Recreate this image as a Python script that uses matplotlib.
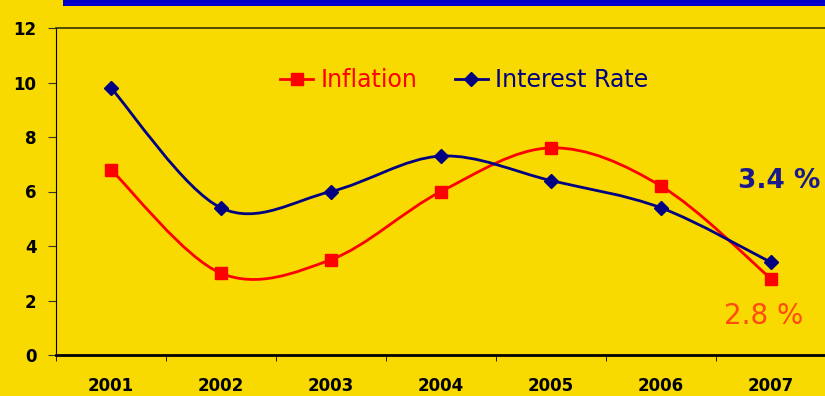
import numpy as np
import matplotlib
matplotlib.use("Agg")
import matplotlib.pyplot as plt
from matplotlib.path import Path
from matplotlib.patches import PathPatch, Rectangle

# data
years = ['2001', '2002', '2003', '2004', '2005', '2006', '2007']
inflation = [6.8, 3.0, 3.5, 6.0, 7.6, 6.2, 2.8]
interest = [9.8, 5.4, 6.0, 7.3, 6.4, 5.4, 3.4]

bg = '#F8DA00'
red = '#FF0000'
navy = '#000080'


def smooth_path(xs, ys):
    # excel style smoothed line: bezier through each pair of points
    pts = np.column_stack([xs, ys]).astype(float)
    n = len(pts)
    verts = [pts[0]]
    codes = [Path.MOVETO]
    for i in range(n - 1):
        p0 = pts[max(i - 1, 0)]
        p1 = pts[i]
        p2 = pts[i + 1]
        p3 = pts[min(i + 2, n - 1)]
        c1 = p1 + (p2 - p0) / 6.0
        c2 = p2 - (p3 - p1) / 6.0
        verts += [c1, c2, p2]
        codes += [Path.CURVE4] * 3
    return Path(verts, codes)


fig = plt.figure(figsize=(8.25, 3.96), dpi=100, facecolor=bg)
ax = fig.add_axes([56 / 825, 41 / 396, 770 / 825, 327 / 396])
ax.set_facecolor(bg)

# blue bar at the top
fig.patches.append(Rectangle((63 / 825, 390 / 396), 1, 6 / 396, transform=fig.transFigure,
                             facecolor='#0000CC', edgecolor='none', figure=fig))

x = np.arange(len(years))
for vals, col, mk, ms, lab in [(inflation, red, 's', 9, 'Inflation'),
                               (interest, navy, 'D', 7, 'Interest Rate')]:
    ax.add_patch(PathPatch(smooth_path(x, vals), facecolor='none', edgecolor=col, lw=2, zorder=3))
    ax.plot(x, vals, linestyle='none', marker=mk, ms=ms, color=col, zorder=4)
    # legend handle
    ax.plot([], [], color=col, lw=2, marker=mk, ms=ms, label=lab)

ax.set_xlim(-0.5, 6.5)
ax.set_ylim(0, 12)
ax.set_yticks(range(0, 13, 2))
ax.set_xticks(x)
ax.set_xticklabels(years)
ax.set_xticks(np.arange(-0.5, 7, 1), minor=True)
ax.tick_params(axis='x', which='major', length=0, pad=16)
ax.tick_params(axis='x', which='minor', length=4, direction='out', color='black')
ax.tick_params(axis='y', length=6, direction='out', pad=8, color='#333333')
for t in ax.get_xticklabels() + ax.get_yticklabels():
    t.set_fontsize(12)
    t.set_fontweight('bold')
    t.set_family('DejaVu Sans')

ax.spines['right'].set_visible(False)
ax.spines['top'].set_color('#333300')
ax.spines['top'].set_linewidth(1.2)
ax.spines['left'].set_color('black')
ax.spines['left'].set_linewidth(0.8)
ax.spines['bottom'].set_color('black')
ax.spines['bottom'].set_linewidth(2)

leg = ax.legend(loc='center', bbox_to_anchor=(0.53, 0.84), ncol=2, frameon=False,
                fontsize=17, handlelength=1.4, handletextpad=0.3, columnspacing=1.6,
                labelcolor='linecolor')

fig.text(779 / 825, 1 - 181 / 396, '3.4 %', fontsize=19, fontweight='bold', color='#1A1A8C',
         ha='center', va='center')
fig.text(764 / 825, 1 - 316 / 396, '2.8 %', fontsize=20, color='#FF4A10',
         ha='center', va='center')

fig.savefig('out.png', dpi=100, facecolor=bg)
